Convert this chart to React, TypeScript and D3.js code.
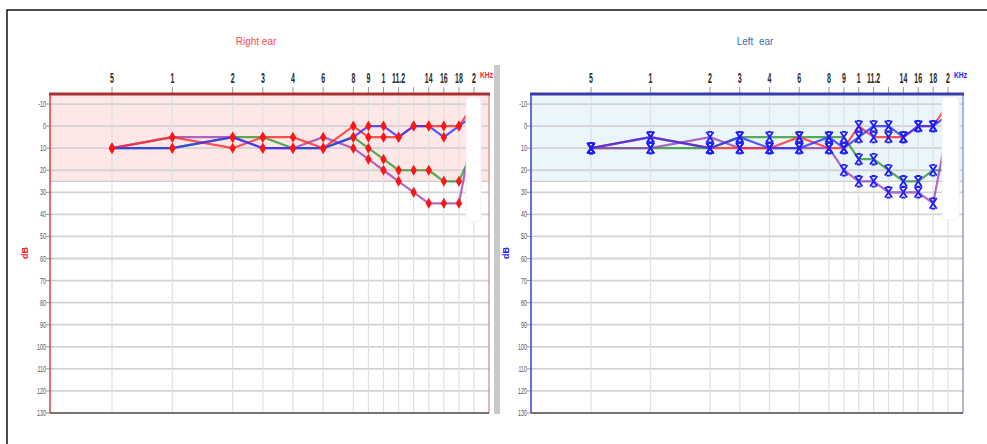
import React from 'react';
import * as d3 from 'd3';

// ---------- data ----------
const frequencies = [0.5, 1, 2, 3, 4, 6, 8, 9, 10, 11.2, 12.5, 14, 16, 18, 20];
const freqLabels = ["5", "1", "2", "3", "4", "6", "8", "9", "1", "11.2", "", "14", "16", "18", "2"];
const dbTicks = [-10, 0, 10, 20, 30, 40, 50, 60, 70, 80, 90, 100, 110, 120, 130];

// Right ear (left panel)
const rightRed = [10, 5, 10, 5, 5, 10, 0, 5, 5, 5, 0, 0, 0, 0, -10];
const rightBlue = [10, 10, 5, 10, 10, 10, 5, 0, 0, 5, 0, 0, 5, 0, -5];
const rightGreen = [10, 10, 5, 5, 10, 10, 5, 10, 15, 20, 20, 20, 25, 25, 10];
const rightPurple = [10, 5, 5, 10, 10, 5, 10, 15, 20, 25, 30, 35, 35, 35, 0];

// Left ear (right panel)
const leftRed = [10, 5, 10, 10, 10, 5, 10, 10, 0, 5, 5, 5, 0, 0, -10];
const leftBlue = [10, 5, 10, 5, 10, 10, 5, 10, 5, 0, 0, 5, 0, 0, -5];
const leftGreen = [10, 10, 10, 5, 5, 5, 5, 5, 15, 15, 20, 25, 25, 20, 20];
const leftPurple = [10, 10, 5, 10, 10, 10, 10, 20, 25, 25, 30, 30, 30, 35, 0];

// axis layout: slot index of each frequency along the (non-uniform) audiogram axis
const slotOf = [0, 4, 8, 10, 12, 14, 16, 17, 18, 19, 20, 21, 22, 23, 24];

const COLORS = { red: '#ff2a2a', blue: '#2f2fff', green: '#2e9a2e', purple: '#9a44b4' };

type PanelProps = {
  left: number; right: number; xFirst: number; xLast: number;
  title: string; titleColor: string; titleX: number;
  shade: string; topBorder: string; leftBorder: string; rightBorder: string;
  unitColor: string; kind: 'diamond' | 'cross';
  series: { color: string; values: number[] }[];
  whiteRect: { x: number; y: number; w: number; h: number };
};

const TOP = 94, BOTTOM = 413;
const y = d3.scaleLinear().domain([-15, 130]).range([93, 413]);

function Panel(p: PanelProps) {
  const x = d3.scaleLinear().domain([0, 24]).range([p.xFirst, p.xLast]);
  const line = d3.line<number>()
    .x((_, i) => x(slotOf[i]))
    .y((v) => y(v));
  const order = ['green', 'purple', 'red', 'blue'];
  const diamond = 'M0,-5.5 L3.2,0 L0,5.5 L-3.2,0 Z';
  const cross = 'M-3.6,-5.3 L3.6,5.3 M3.6,-5.3 L-3.6,5.3 M-2,-5.3 L2,-5.3 M-2,5.3 L2,5.3';
  const font = 'Liberation Sans, Arial, sans-serif';
  return (
    <g>
      <text x={p.titleX} y={45} textAnchor="middle" fontSize={10}
        fontFamily={font} fill={p.titleColor} style={{ whiteSpace: 'pre' }}>{p.title}</text>
      <rect x={p.left} y={TOP} width={p.right - p.left} height={y(25) - TOP} fill={p.shade} />
      {dbTicks.map((d) => (
        <line key={'h' + d} x1={p.left} x2={p.right} y1={y(d)} y2={y(d)} stroke="#d3d3d3" strokeWidth={1.8} />
      ))}
      <line x1={p.left} x2={p.right} y1={y(25)} y2={y(25)} stroke="#cccccc" strokeWidth={1.2} />
      {frequencies.map((f, i) => (
        <line key={'v' + f} x1={x(slotOf[i])} x2={x(slotOf[i])} y1={TOP} y2={BOTTOM} stroke="#e0e0e0" strokeWidth={1.2} />
      ))}
      {frequencies.map((f, i) => (
        <g key={'t' + f}>
          <line x1={x(slotOf[i])} x2={x(slotOf[i])} y1={87} y2={TOP} stroke="#999" strokeWidth={1} />
          <text transform={`translate(${x(slotOf[i])},83) scale(0.5,1)`} textAnchor="middle" fontSize={14}
            fontWeight="bold" fontFamily={font} fill="#2a2a2a">{freqLabels[i]}</text>
        </g>
      ))}
      <text transform={`translate(${p.xLast + 6},78) scale(0.75,1)`} fontSize={9} fontWeight="bold"
        fontFamily={font} fill={p.unitColor}>KHz</text>
      {dbTicks.map((d) => (
        <g key={'y' + d}>
          <line x1={p.left - 4} x2={p.left} y1={y(d)} y2={y(d)} stroke="#999" strokeWidth={1} />
          <text transform={`translate(${p.left - 4},${y(d) + 3}) scale(0.6,1)`} textAnchor="end" fontSize={9}
            fontFamily={font} fill="#555">{d}</text>
        </g>
      ))}
      <text transform={`translate(${p.left - 22},${253}) rotate(-90)`} textAnchor="middle" fontSize={9}
        fontWeight="bold" fontFamily={font} fill={p.unitColor}>dB</text>
      {order.map((c) => {
        const s = p.series.find((q) => q.color === c)!;
        return (
          <path key={'l' + c} d={line(s.values) || ''} fill="none"
            stroke={(COLORS as any)[c]} strokeWidth={2.2} strokeOpacity={0.8} strokeLinejoin="round" />
        );
      })}
      {p.series.map((s) => s.values.map((v, i) => (
        p.kind === 'diamond'
          ? <path key={'m' + s.color + i} d={diamond} transform={`translate(${x(slotOf[i])},${y(v)})`} fill="#ff1414" />
          : <path key={'m' + s.color + i} d={cross} transform={`translate(${x(slotOf[i])},${y(v)})`} fill="none" stroke="#1c1cff" strokeWidth={1.8} />
      )))}
      <rect x={p.whiteRect.x} y={p.whiteRect.y} width={p.whiteRect.w} height={p.whiteRect.h} rx={5}
        fill="#ffffff" stroke="#f0f0f0" strokeWidth={1} />
      <line x1={p.left} x2={p.left} y1={TOP} y2={BOTTOM} stroke={p.leftBorder} strokeWidth={1.5} />
      <line x1={p.right} x2={p.right} y1={TOP} y2={BOTTOM} stroke={p.rightBorder} strokeWidth={1} />
      <line x1={p.left} x2={p.right} y1={BOTTOM} y2={BOTTOM} stroke="#555" strokeWidth={1.5} />
      <line x1={p.left - 1} x2={p.right + 1} y1={TOP} y2={TOP} stroke={p.topBorder} strokeWidth={3} />
    </g>
  );
}

export default function App() {
  return (
    <svg width={987} height={444} style={{ position: 'fixed', left: 0, top: 0, background: '#fff' }}>
      <rect x={0} y={0} width={987} height={444} fill="#fff" />
      <rect x={7} y={10} width={990} height={450} fill="none" stroke="#111" strokeWidth={1.5} />
      <Panel left={50} right={489} xFirst={112} xLast={474}
        title="Right ear" titleColor="#ff4a4a" titleX={256}
        shade="#fde7e7" topBorder="#a83232" leftBorder="#d84040" rightBorder="#c87070"
        unitColor="#ff2020" kind="diamond"
        series={[
          { color: 'red', values: rightRed },
          { color: 'blue', values: rightBlue },
          { color: 'green', values: rightGreen },
          { color: 'purple', values: rightPurple },
        ]}
        whiteRect={{ x: 466, y: 97, w: 15, h: 125 }} />
      <rect x={494} y={65} width={6} height={349} fill="#c9c9c9" />
      <Panel left={531} right={963} xFirst={591} xLast={948}
        title="Left  ear" titleColor="#3470b0" titleX={755}
        shade="#ebf5fc" topBorder="#3a3aa8" leftBorder="#3c3ce0" rightBorder="#6a6ab8"
        unitColor="#2020ff" kind="cross"
        series={[
          { color: 'red', values: leftRed },
          { color: 'blue', values: leftBlue },
          { color: 'green', values: leftGreen },
          { color: 'purple', values: leftPurple },
        ]}
        whiteRect={{ x: 942, y: 97, w: 17, h: 123 }} />
    </svg>
  );
}
